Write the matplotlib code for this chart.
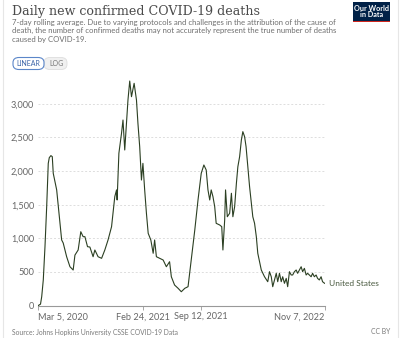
import matplotlib
matplotlib.use("Agg")
import matplotlib.pyplot as plt
from matplotlib.patches import FancyBboxPatch, Rectangle
import pandas as pd

plt.rcParams['font.family'] = ['Lato', 'DejaVu Sans']

# ---- data ----
start_date = "2020-03-05"
day_offsets = [0, 7.5, 11.6, 17, 22.8, 28.6, 34, 37.5, 43, 47.7, 51, 62.7, 70.5, 79.7, 85, 96.7,
               108, 119, 125, 136, 145, 153, 159, 168, 176, 187, 193, 204, 216, 227, 238, 250,
               261, 267, 269, 275, 284, 289, 295, 301, 306, 312, 318, 327, 335, 340, 346, 352,
               357, 363, 369, 375, 384, 392, 397, 403, 414, 426, 437, 448, 454, 465, 477, 488,
               500, 511, 522, 534, 545, 556, 565, 573, 579, 585, 590, 596, 602, 607, 619, 626,
               630, 636, 639, 645, 653, 659, 664, 670, 676, 681, 687, 693, 698, 704, 709, 715,
               721, 727, 732, 738, 744, 749, 755, 761, 772, 783, 789, 795, 800, 806, 812, 817,
               823, 829, 834, 840, 846, 851, 857, 863, 868, 874, 880, 885, 891, 897, 902, 908,
               914, 919, 931, 936, 942, 948, 953, 959, 965, 970, 977]
deaths = [0, 20, 130, 380, 875, 1470, 2115, 2200, 2230, 2215, 1967, 1720, 1375, 975, 930, 726,
          577, 528, 750, 826, 1098, 1024, 1024, 875, 870, 726, 826, 726, 702, 826, 975, 1173,
          1620, 1720, 1570, 2265, 2563, 2760, 2314, 2711, 3058, 3340, 3107, 3306, 3058, 2711, 2363, 1867,
          2115, 1720, 1372, 1074, 975, 777, 975, 726, 702, 677, 577, 652, 428, 305, 256, 205,
          256, 280, 677, 1123, 1570, 1967, 2091, 2016, 1720, 1570, 1720, 1620, 1470, 1223, 1198, 1173,
          826, 1272, 1720, 1321, 1372, 1670, 1321, 1470, 1818, 2065, 2214, 2463, 2587, 2512, 2363, 2065,
          1768, 1521, 1321, 1223, 1024, 777, 652, 528, 428, 354, 503, 428, 280, 380, 479, 354,
          479, 354, 428, 330, 404, 280, 503, 454, 454, 503, 528, 479, 528, 577, 503, 553,
          454, 479, 428, 479, 428, 454, 404, 380, 428, 354, 330]
y_ticks = [0, 500, 1000, 1500, 2000, 2500, 3000]
x_tick_dates = ["2020-03-05", "2021-02-24", "2021-09-12", "2022-11-07"]
x_tick_labels = ["Mar 5, 2020", "Feb 24, 2021", "Sep 12, 2021", "Nov 7, 2022"]
series_name = "United States"

W, H = 400, 338
fig = plt.figure(figsize=(W / 100, H / 100), dpi=100)
fig.patch.set_facecolor("white")

def fx(x):
    return x / W

def fy(y):
    return 1 - y / H

# axes placement (pixels)
left_px, right_px = 38.3, 324.6
bottom_px, top_px = 305.5, 77.0
ax = fig.add_axes([fx(left_px), fy(bottom_px), fx(right_px - left_px), (bottom_px - top_px) / H])
ax.set_facecolor("none")

dates = pd.Timestamp(start_date) + pd.to_timedelta(day_offsets, unit="D")
line_color = "#2b3f22"
ax.plot(dates, deaths, color=line_color, lw=0.8, solid_joinstyle="round", zorder=3)

x0 = pd.Timestamp(x_tick_dates[0])
x1 = pd.Timestamp(x_tick_dates[-1])
ax.set_xlim(x0, x1)
ax.set_ylim(0, 3400)

for s in ["top", "right", "left"]:
    ax.spines[s].set_visible(False)
ax.spines["bottom"].set_color("#999999")
ax.spines["bottom"].set_linewidth(0.8)

ax.set_yticks(y_ticks)
ax.set_yticklabels([f"{v:,}" for v in y_ticks])
ax.tick_params(axis="y", length=0, pad=3, labelsize=6.6, labelcolor="#666666")
for v in y_ticks[1:]:
    ax.axhline(v, color="#dddddd", lw=0.7, ls=(0, (2, 2)), zorder=1)

ax.set_xticks(pd.to_datetime(x_tick_dates))
ax.set_xticklabels(x_tick_labels)
ax.tick_params(axis="x", length=3, width=0.6, color="#999999", pad=2, labelsize=6.6, labelcolor="#666666")
tl = ax.get_xticklabels()
tl[0].set_ha("left")
tl[-1].set_ha("right")

# end label
ax.annotate(series_name, xy=(dates[-1], deaths[-1]), xytext=(3, 0), textcoords="offset points",
            va="center", ha="left", fontsize=6.0, color="#4a5a40", annotation_clip=False)

# title & subtitle
fig.text(fx(12), fy(11), "Daily new confirmed COVID-19 deaths", family=["DejaVu Serif"],
         fontsize=9.1, color="#4a4a4a", va="center", ha="left")
subtitle = ("7-day rolling average. Due to varying protocols and challenges in the attribution of the cause of\n"
            "death, the number of confirmed deaths may not accurately represent the true number of deaths\n"
            "caused by COVID-19.")
fig.text(fx(12), fy(18.5), subtitle, fontsize=5.55, color="#6e6e6e", va="top", ha="left", linespacing=1.3)

# LINEAR / LOG toggle
lin = FancyBboxPatch((fx(13), fy(69.5)), fx(31), (69.5 - 57.5) / H,
                     boxstyle="round,pad=0,rounding_size=0.015", transform=fig.transFigure,
                     fc="white", ec="#5b86c9", lw=0.8, zorder=2)
log = FancyBboxPatch((fx(44), fy(69.5)), fx(23), (69.5 - 57.5) / H,
                     boxstyle="round,pad=0,rounding_size=0.015", transform=fig.transFigure,
                     fc="#f0f0f0", ec="#dddddd", lw=0.6, zorder=1)
fig.add_artist(log)
fig.add_artist(lin)
fig.text(fx(28.5), fy(63.5), "LINEAR", fontsize=5, color="#3b64a8", ha="center", va="center", zorder=3)
fig.text(fx(56), fy(63.5), "LOG", fontsize=5, color="#777777", ha="center", va="center", zorder=3)

# logo
fig.add_artist(Rectangle((fx(353), fy(22)), fx(37), 20 / H, transform=fig.transFigure,
                         fc="#002147", ec="none"))
fig.add_artist(Rectangle((fx(353), fy(22)), fx(37), 1.5 / H, transform=fig.transFigure,
                         fc="#ce261e", ec="none"))
fig.text(fx(371.5), fy(11.5), "Our World\nin Data", fontsize=5.2, color="white", weight="bold",
         ha="center", va="center", linespacing=0.95)

# footer
fig.text(fx(12), fy(332), "Source: Johns Hopkins University CSSE COVID-19 Data", fontsize=4.9,
         color="#7a7a7a", ha="left", va="center")
fig.text(fx(390), fy(332), "CC BY", fontsize=4.9, color="#7a7a7a", ha="right", va="center")

# frame lines
for xp in (2.5, 397.5):
    fig.add_artist(plt.Line2D([fx(xp), fx(xp)], [0, 1], transform=fig.transFigure,
                              color="#e6e6e6", lw=0.8))

fig.savefig("out.png", dpi=100, facecolor="white")
